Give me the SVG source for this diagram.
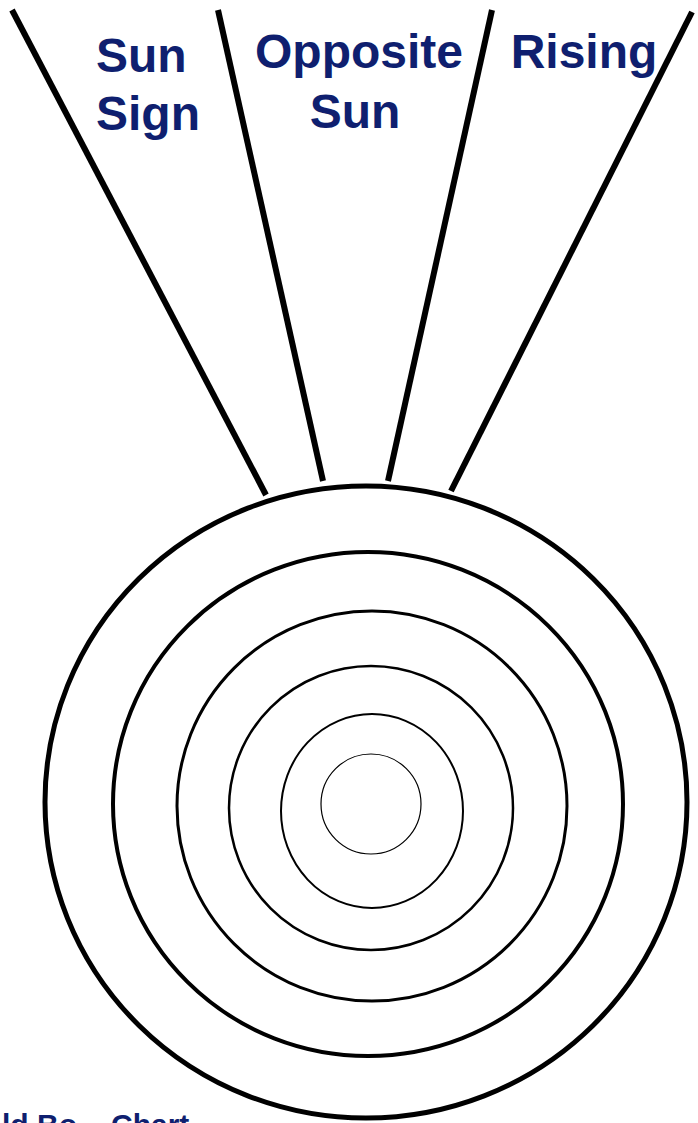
<svg xmlns="http://www.w3.org/2000/svg" width="698" height="1123" viewBox="0 0 698 1123">
  <style>
    .lbl { font-family: "Liberation Sans", Arial, sans-serif; font-weight: bold; font-size: 48px; fill: #0f1f6f; }
    .foot { font-family: "Liberation Sans", Arial, sans-serif; font-weight: bold; font-size: 30px; fill: #0f1f6f; }
    .ray { stroke: #000; stroke-width: 6; stroke-linecap: butt; fill: none; }
    .ring { fill: none; stroke: #000; }
  </style>
  <rect width="698" height="1123" fill="#fff"/>
  <g id="connectors">
    <line class="ray" x1="12" y1="10" x2="266" y2="495"/>
    <line class="ray" x1="218" y1="10" x2="323" y2="481"/>
    <line class="ray" x1="492" y1="10" x2="388" y2="481"/>
    <line class="ray" x1="692" y1="12" x2="451" y2="491"/>
  </g>
  <g id="chart">
    <ellipse class="ring" cx="366" cy="802" rx="321" ry="316" stroke-width="5" fill="#fff"/>
    <ellipse class="ring" cx="368" cy="804" rx="255" ry="252" stroke-width="4"/>
    <ellipse class="ring" cx="372" cy="806" rx="195" ry="195" stroke-width="3"/>
    <ellipse class="ring" cx="371" cy="808" rx="142" ry="142" stroke-width="2.5"/>
    <ellipse class="ring" cx="372" cy="811" rx="91" ry="97" stroke-width="2"/>
    <ellipse class="ring" cx="371" cy="804" rx="50" ry="50" stroke-width="1.2"/>
  </g>
  <g id="sun-sign">
    <text class="lbl" x="96" y="72">Sun</text>
    <text class="lbl" x="96" y="130">Sign</text>
  </g>
  <g id="opposite-sun">
    <text class="lbl" x="359" y="68" text-anchor="middle">Opposite</text>
    <text class="lbl" x="355" y="128" text-anchor="middle">Sun</text>
  </g>
  <g id="rising">
    <text class="lbl" x="584" y="68" text-anchor="middle">Rising</text>
  </g>
  <g id="footer">
    <text class="foot" x="2" y="1135">ld Bo</text>
    <text class="foot" x="111" y="1135">Chart</text>
  </g>
</svg>
